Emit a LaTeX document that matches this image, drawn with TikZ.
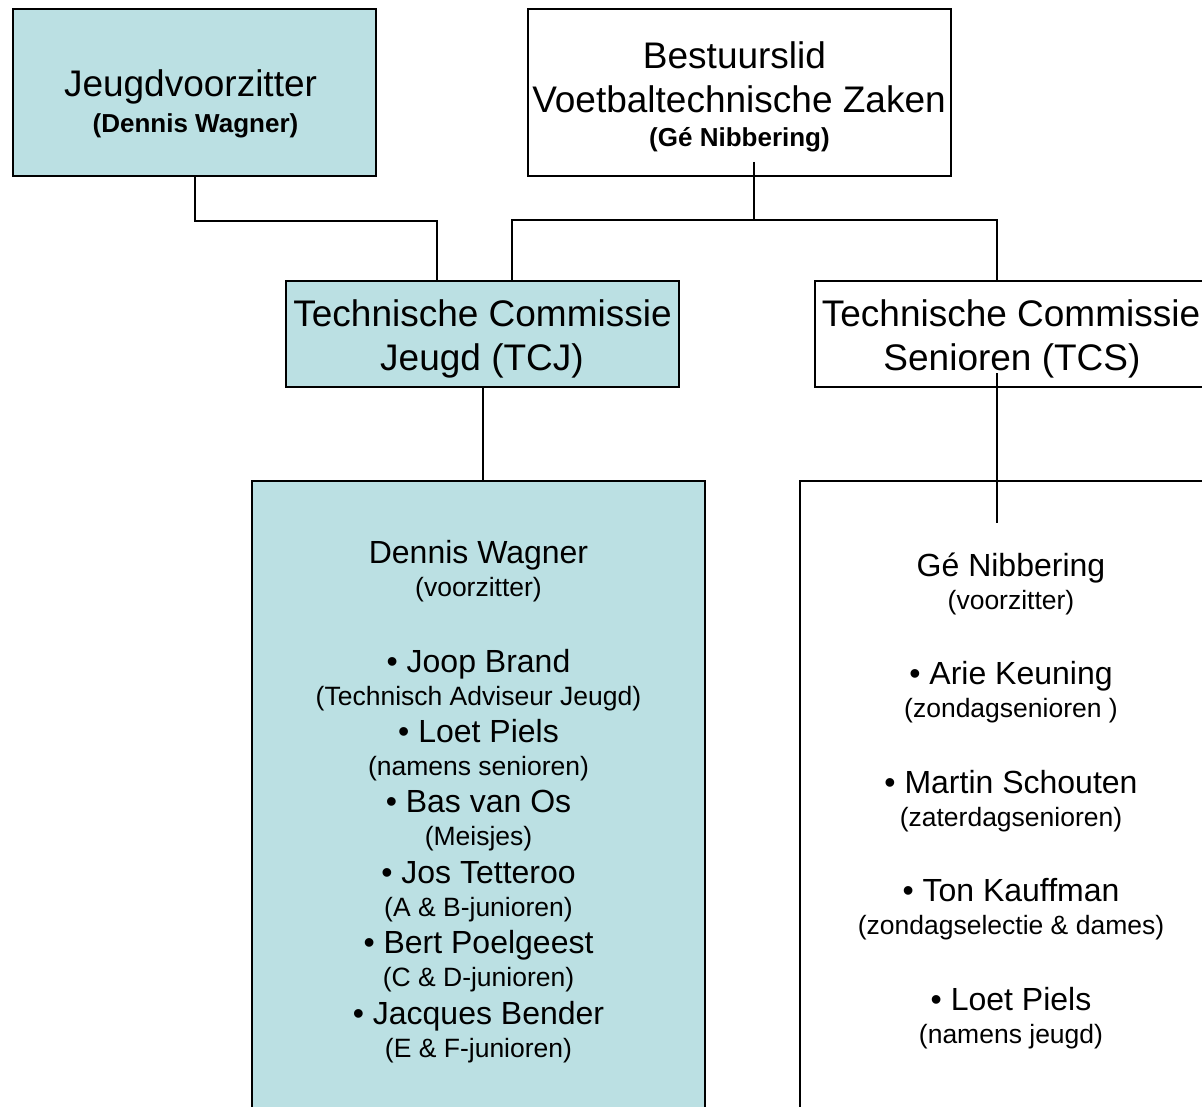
\documentclass[tikz,border=0pt]{standalone}
\usepackage{fontspec}
\setmainfont{Liberation Sans}
\usepackage{xcolor}
\usepackage{tikz}
\usetikzlibrary{positioning,calc}
\definecolor{jeugdblauw}{RGB}{187,224,227}
\tikzset{
  organigram/.style={x=1pt,y=-1pt},
  blok/.style={draw,line width=2pt,inner sep=0pt},
  jeugd/.style={blok,fill=jeugdblauw},
  kop/.style={inner sep=0pt,text height=26.5pt,text depth=0pt,font=\fontsize{37}{44}\selectfont},
  sub/.style={inner sep=0pt,text height=18.6pt,text depth=0pt,font=\bfseries\fontsize{26}{30}\selectfont},
  naam/.style={inner sep=0pt,text height=22.9pt,text depth=0pt,font=\fontsize{32}{38}\selectfont},
  rol/.style={inner sep=0pt,text height=19pt,text depth=0pt,font=\fontsize{26.5}{31}\selectfont},
  lijn/.style={line width=2pt}
}
\begin{document}
\begin{tikzpicture}[organigram]
  \useasboundingbox (0,0) rectangle (1202,1107);
  \clip (0,0) rectangle (1202,1107);

  \node[jeugd,minimum width=363,minimum height=167] (jv) at (194.5,92.5) {};
  \node[kop] (jvkop) at (190.5,83) {Jeugdvoorzitter};
  \node[sub] (jvnaam) at (195.5,123) {(Dennis Wagner)};

  \node[blok,minimum width=423,minimum height=167] (bvz) at (739.5,92.5) {};
  \node[kop] (bvzkop) at (734.5,55) {Bestuurslid};
  \node[kop] (bvzkop2) at (739,99) {Voetbaltechnische Zaken};
  \node[sub] (bvznaam) at (739.5,137) {(Gé Nibbering)};

  \node[jeugd,minimum width=393,minimum height=106] (tcj) at (482.5,334) {};
  \node[kop] (tcjkop) at (482.5,313) {Technische Commissie};
  \node[kop] (tcjkop2) at (482,357) {Jeugd (TCJ)};

  \node[blok,minimum width=394,minimum height=106] (tcs) at (1012,334) {};
  \node[kop] (tcskop) at (1011,313) {Technische Commissie};
  \node[kop] (tcskop2) at (1012,357) {Senioren (TCS)};

  \node[jeugd,minimum width=453,minimum height=649] (jlist) at (478.5,805.5) {};
  \node[blok,minimum width=422,minimum height=649] (slist) at (1011,805.5) {};

  \foreach \y/\nm/\rl [count=\i] in {552/Dennis Wagner/{(voorzitter)},
      661/• Joop Brand/{(Technisch Adviseur Jeugd)}, 731/• Loet Piels/{(namens senioren)},
      801/• Bas van Os/{(Meisjes)}, 872/• Jos Tetteroo/{(A \& B-junioren)},
      942/• Bert Poelgeest/{(C \& D-junioren)}, 1013/• Jacques Bender/{(E \& F-junioren)}}{
    \node[naam] (jnaam\i) at (478.5,\y) {\nm};
    \node[rol] (jrol\i) at (478.5,\y+35) {\rl};
  }
  \foreach \y/\nm/\rl [count=\i] in {565/Gé Nibbering/{(voorzitter)},
      673/• Arie Keuning/{(zondagsenioren )}, 782/• Martin Schouten/{(zaterdagsenioren)},
      890/• Ton Kauffman/{(zondagselectie \& dames)}, 999/• Loet Piels/{(namens jeugd)}}{
    \node[naam] (snaam\i) at (1011,\y) {\nm};
    \node[rol] (srol\i) at (1011,\y+35) {\rl};
  }

  \coordinate (splits) at (754,220);
  \coordinate (tcseind) at (997,523);
  \draw[lijn] (jv.south) -- ++(0,44) -| ([xshift=-45.5pt]tcj.north);
  \draw[lijn] ([xshift=14.5pt,yshift=15pt]bvz.south) -- (splits);
  \draw[lijn] ([xshift=29.5pt]tcj.north) |- (splits) -| ([xshift=-15pt]tcs.north);
  \draw[lijn] (tcj.south) -- (tcj.south |- jlist.north);
  \draw[lijn] ([xshift=-15pt,yshift=15pt]tcs.south) -- (tcseind);
\end{tikzpicture}
\end{document}
